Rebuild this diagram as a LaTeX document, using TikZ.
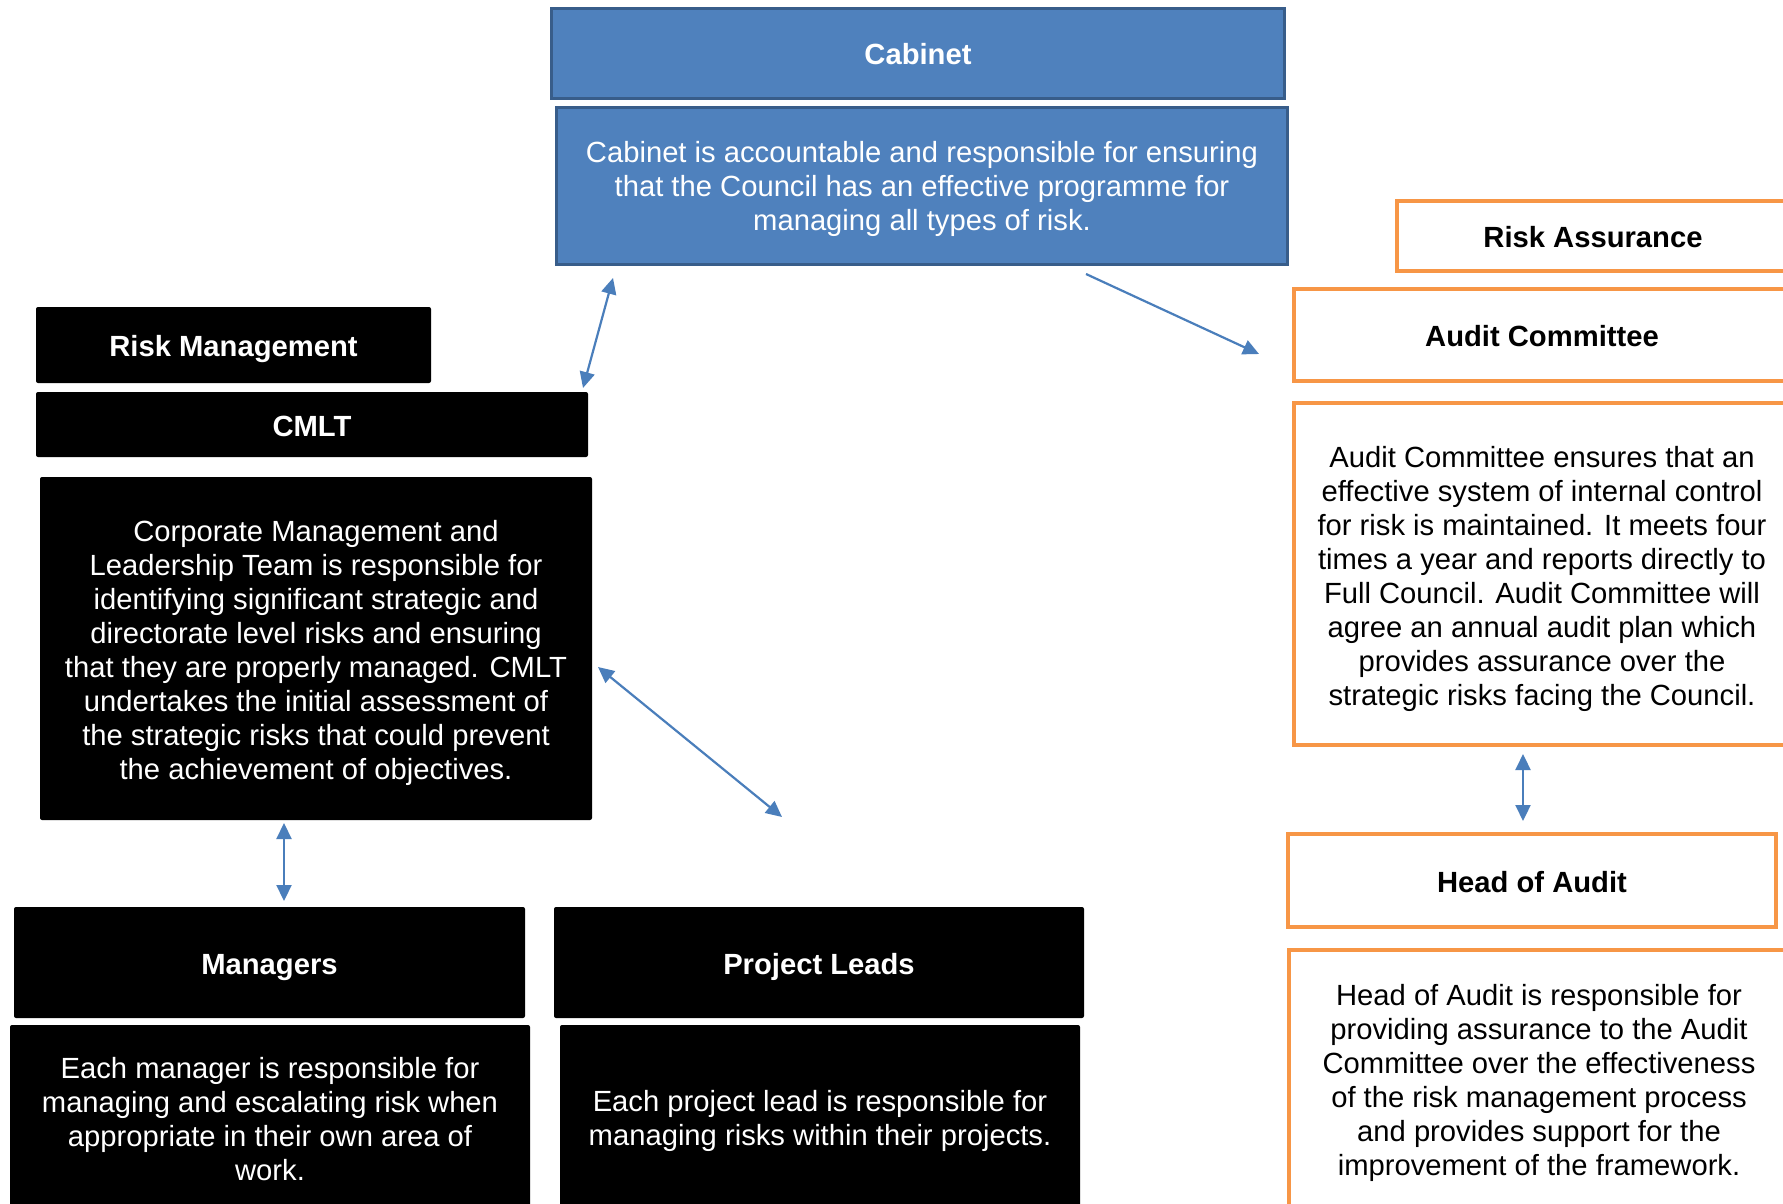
\documentclass[tikz,border=0pt]{standalone}
\usepackage{fontspec}
\setmainfont{Liberation Sans}
\usetikzlibrary{arrows.meta}
\definecolor{cabfill}{HTML}{4F81BD}
\definecolor{cabline}{HTML}{385D8A}
\definecolor{orng}{HTML}{F79646}
\definecolor{arr}{HTML}{4A7EBB}
\begin{document}
\begin{tikzpicture}[x=0.5pt,y=-0.5pt,
  txt/.style={font=\fontsize{14.6}{17}\selectfont, align=center, inner sep=0pt},
  ttl/.style={font=\fontsize{14.6}{17}\selectfont\bfseries, inner sep=0pt, anchor=base},
  bluebox/.style={draw=cabline, fill=cabfill, line width=1.5pt, inner sep=0pt},
  orangebox/.style={draw=orng, fill=white, line width=2pt, inner sep=0pt},
  blackbox/.style={fill=black, rounded corners=1pt, inner sep=0pt},
  link/.style={draw=arr, line width=1.1pt, {Triangle[length=8pt,width=7.5pt]}-{Triangle[length=8pt,width=7.5pt]}},
  onelink/.style={draw=arr, line width=1.1pt, -{Triangle[length=8pt,width=7.5pt]}}
]
\useasboundingbox (0,0) rectangle (1783,1204);
\fill[white] (0,0) rectangle (1783,1204);

% Cabinet
\node[bluebox, minimum width=366.5pt, minimum height=45pt] (cabhead) at (918,53.5) {};
\node[ttl, text=white] (cabheadt) at ([yshift=-5.75pt]cabhead.center) {Cabinet};
\node[bluebox, minimum width=365.5pt, minimum height=78.5pt] (cabbody) at (922,186) {};
\node[txt, text=white] (cabbodyt) at ([yshift=-1.7pt]cabbody.center)
  {Cabinet is accountable and responsible for ensuring\\that the Council has an effective programme for\\managing all types of risk.};

% Risk assurance side
\node[orangebox, minimum width=196pt, minimum height=35pt] (ra) at (1593,236) {};
\node[ttl] (rat) at ([yshift=-5.75pt]ra.center) {Risk Assurance};
\node[orangebox, minimum width=248pt, minimum height=46pt] (ac) at (1542,335) {};
\node[ttl] (act) at ([yshift=-5.75pt]ac.center) {Audit Committee};
\node[orangebox, minimum width=248pt, minimum height=171pt] (acbody) at (1542,574) {};
\node[txt] (acbodyt) at ([yshift=-2.5pt]acbody.center)
  {Audit Committee ensures that an\\effective system of internal control\\for risk is maintained. It meets four\\times a year and reports directly to\\Full Council. Audit Committee will\\agree an annual audit plan which\\provides assurance over the\\strategic risks facing the Council.};
\node[orangebox, minimum width=244pt, minimum height=46.5pt] (hoa) at (1532,880.5) {};
\node[ttl] (hoat) at ([yshift=-5.75pt]hoa.center) {Head of Audit};
\node[orangebox, minimum width=250pt, minimum height=130pt] (hoabody) at (1539,1080) {};
\node[txt] (hoabodyt) at ([yshift=-1.7pt]hoabody.center)
  {Head of Audit is responsible for\\providing assurance to the Audit\\Committee over the effectiveness\\of the risk management process\\and provides support for the\\improvement of the framework.};

% Risk management side
\node[blackbox, minimum width=197.5pt, minimum height=38pt] (rm) at (233.5,345) {};
\node[ttl, text=white] (rmt) at ([yshift=-5.75pt]rm.center) {Risk Management};
\node[blackbox, minimum width=276pt, minimum height=32.5pt] (cmlt) at (312,424.5) {};
\node[ttl, text=white] (cmltt) at ([yshift=-5.75pt]cmlt.center) {CMLT};
\node[blackbox, minimum width=276pt, minimum height=171.5pt] (cmltbody) at (316,648.5) {};
\node[txt, text=white] (cmltbodyt) at ([yshift=-2.3pt]cmltbody.center)
  {Corporate Management and\\Leadership Team is responsible for\\identifying significant strategic and\\directorate level risks and ensuring\\that they are properly managed. CMLT\\undertakes the initial assessment of\\the strategic risks that could prevent\\the achievement of objectives.};
\node[blackbox, minimum width=255.5pt, minimum height=55.5pt] (mgr) at (269.5,962.5) {};
\node[ttl, text=white] (mgrt) at ([yshift=-5.75pt]mgr.center) {Managers};
\node[blackbox, minimum width=260pt, minimum height=92.5pt] (mgrbody) at (270,1117.5) {};
\node[txt, text=white] (mgrbodyt) at ([yshift=-1pt]mgrbody.center)
  {Each manager is responsible for\\managing and escalating risk when\\appropriate in their own area of\\work.};
\node[blackbox, minimum width=265pt, minimum height=55.5pt] (pl) at (819,962.5) {};
\node[ttl, text=white] (plt) at ([yshift=-5.75pt]pl.center) {Project Leads};
\node[blackbox, minimum width=260pt, minimum height=92.5pt] (plbody) at (820,1117.5) {};
\node[txt, text=white] (plbodyt) at ([yshift=-1.7pt]plbody.center)
  {Each project lead is responsible for\\managing risks within their projects.};

% connector ends
\coordinate (c1) at (613,278);
\coordinate (c2) at (583,388);
\coordinate (c3) at (1086,274);
\coordinate (c4) at (1259,354);
\coordinate (c5) at (598,667);
\coordinate (c6) at (782,817);
\coordinate (c7) at (284,823);
\coordinate (c8) at (284,901);
\coordinate (c9) at (1523,754);
\coordinate (c10) at (1523,821);

\draw[link] (c1) -- (c2);
\draw[onelink] (c3) -- (c4);
\draw[link] (c5) -- (c6);
\draw[link] (c7) -- (c8);
\draw[link] (c9) -- (c10);
\end{tikzpicture}
\end{document}
